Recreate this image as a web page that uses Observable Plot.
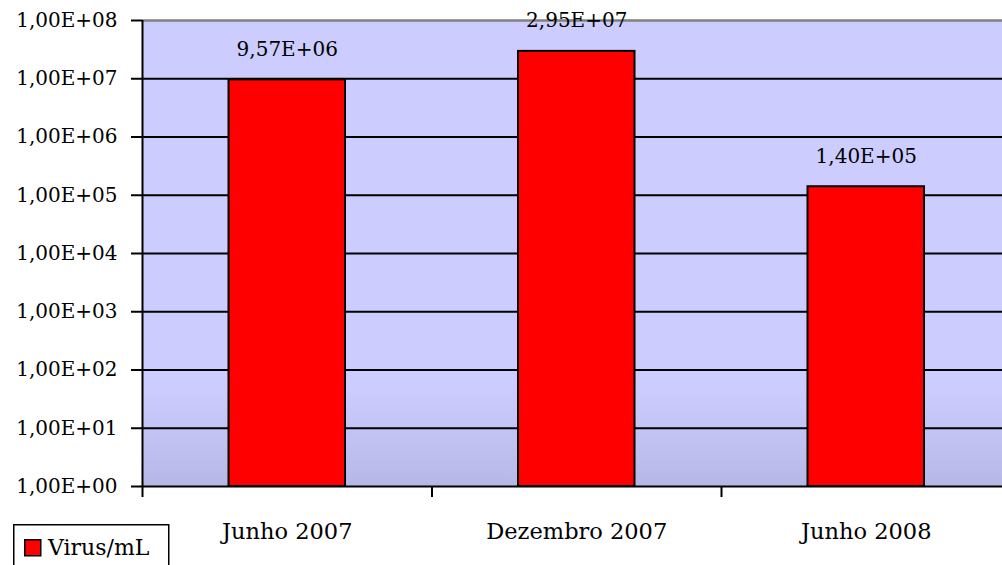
<!DOCTYPE html>
<html><head><meta charset="utf-8">
<script src="https://cdn.jsdelivr.net/npm/d3@7"></script>
<script src="https://cdn.jsdelivr.net/npm/@observablehq/plot@0.6"></script>
<style>
body{margin:0;background:#fff;}
#wrap{position:relative;width:1002px;height:565px;overflow:hidden;font-family:'DejaVu Serif',serif;}
#wrap > svg{display:block;}
#legend{position:absolute;left:0;top:524px;width:180px;height:41px;overflow:hidden;}
</style></head><body>
<svg width="0" height="0" style="position:absolute"><defs><linearGradient id="bg" x1="0" y1="0" x2="0" y2="1"><stop offset="0" stop-color="#ccccff"/><stop offset="0.79" stop-color="#ccccff"/><stop offset="1" stop-color="#b7b7e7"/></linearGradient></defs></svg>
<div id="wrap">
<svg id="legend" width="180" height="41" font-family="'DejaVu Serif', serif">
  <rect x="13.75" y="0.75" width="155" height="60" fill="#fff" stroke="#000" stroke-width="1.5"></rect>
  <rect x="24.75" y="15.75" width="16" height="16" fill="#ff0000" stroke="#000" stroke-width="1.5"></rect>
  <text id="legendText" x="48" y="31" font-size="22" fill="#000"></text>
</svg>
</div>
<script>
const categories = ["Junho 2007", "Dezembro 2007", "Junho 2008"];
const values = [9.57e6, 2.95e7, 1.40e5];
const valueLabels = ["9,57E+06", "2,95E+07", "1,40E+05"];
const yTickValues = [1, 10, 100, 1e3, 1e4, 1e5, 1e6, 1e7, 1e8];
const yTickLabels = ["1,00E+00", "1,00E+01", "1,00E+02", "1,00E+03", "1,00E+04", "1,00E+05", "1,00E+06", "1,00E+07", "1,00E+08"];
const seriesName = "Virus/mL";

const data = categories.map((c, i) => ({category: c, index: i, value: values[i], label: valueLabels[i]}));
const boundaries = d3.range(categories.length + 1);
const centers = categories.map((_, i) => i + 0.5);

const chart = Plot.plot({
  width: 1002, height: 565,
  marginTop: 20, marginBottom: 79, marginLeft: 142, marginRight: -8.5,
  style: {fontFamily: "'DejaVu Serif', serif", fontSize: "20px", color: "#000", background: "transparent"},
  x: {type: "linear", domain: [0, categories.length], label: null},
  y: {type: "log", domain: [1, 1e8], label: null},
  marks: [
    Plot.frame({fill: "url(#bg)", stroke: null}),
    Plot.ruleY(yTickValues.slice(1, -1), {stroke: "#000", strokeWidth: 2}),
    Plot.ruleY([yTickValues[yTickValues.length - 1]], {stroke: "#808080", strokeWidth: 2.5}),
    Plot.rectY(data, {x1: d => d.index, x2: d => d.index + 1, y1: 1, y2: "value", insetLeft: 86.5, insetRight: 86.5, fill: "#ff0000", stroke: "#000", strokeWidth: 2}),
    Plot.text(data, {x: d => d.index + 0.5, y: "value", text: "label", lineAnchor: "bottom", dy: -24, fontSize: 20, fill: "#000"}),
    Plot.axisY({ticks: yTickValues, tickFormat: d => yTickLabels[yTickValues.indexOf(d)], tickSize: 11, tickPadding: 14, strokeWidth: 2, strokeOpacity: 1, fontSize: 20, label: null}),
    Plot.axisX({ticks: boundaries, tickFormat: () => "", tickSize: 11, strokeWidth: 2, strokeOpacity: 1, label: null}),
    Plot.axisX({ticks: centers, tickFormat: d => categories[Math.floor(d)], tickSize: 0, tickPadding: 37, fontSize: 22.5, label: null}),
    Plot.ruleX([0], {stroke: "#000", strokeWidth: 2}),
    Plot.ruleY([1], {stroke: "#000", strokeWidth: 2})
  ]
});
const wrap = document.getElementById("wrap");
wrap.insertBefore(chart, wrap.firstChild);
document.getElementById("legendText").textContent = seriesName;
</script>
</body></html>
